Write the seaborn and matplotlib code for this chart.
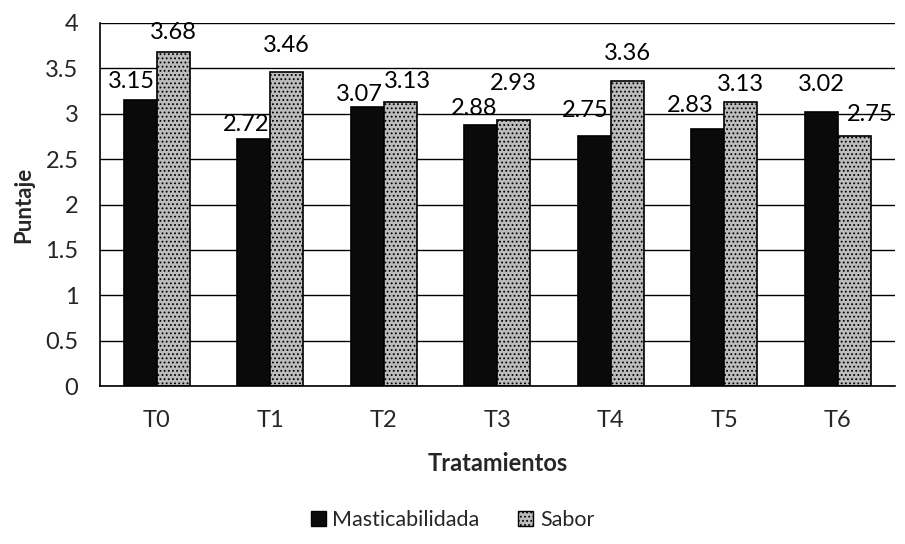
import matplotlib
matplotlib.use("Agg")
import matplotlib.pyplot as plt
import seaborn as sns
import pandas as pd
from matplotlib.patches import Patch

categories = ["T0", "T1", "T2", "T3", "T4", "T5", "T6"]
masticabilidad = [3.15, 2.72, 3.07, 2.88, 2.75, 2.83, 3.02]
sabor = [3.68, 3.46, 3.13, 2.93, 3.36, 3.13, 2.75]
series_names = ["Masticabilidada", "Sabor"]

# label nudges (pixels: dx, gap above bar top) to mimic the reference placement
nudge_mast = [(-9, 12), (-8, 8), (-8, 6), (-7, 10), (-9, 19), (-18, 17), (0, 21)]
nudge_sabor = [(0, 13), (0, 20), (7, 14), (0, 30), (0, 21), (0, 11), (16, 15)]

df = pd.DataFrame({
    "Tratamiento": categories * 2,
    "Serie": [series_names[0]] * len(categories) + [series_names[1]] * len(categories),
    "Puntaje": masticabilidad + sabor,
})

sns.set_theme(style="white")
plt.rcParams["font.family"] = ["Lato", "DejaVu Sans"]
plt.rcParams["hatch.color"] = "#4a4a4a"
plt.rcParams["hatch.linewidth"] = 0.8

fig = plt.figure(figsize=(9.05, 5.44), dpi=100)
ax = fig.add_axes([0.1105, 0.290, 0.878, 0.668])

sns.barplot(data=df, x="Tratamiento", y="Puntaje", hue="Serie",
            palette=["#0a0a0a", "#bcbcbc"], width=0.58, ax=ax,
            edgecolor="black", linewidth=1.2, legend=False, errorbar=None)

for bar in ax.containers[1]:
    bar.set_hatch("....")
    bar.set_edgecolor("black")

ax.set_ylim(0, 4)
ax.set_xlim(-0.5, len(categories) - 0.5)
ticks = [0, 0.5, 1, 1.5, 2, 2.5, 3, 3.5, 4]
ax.set_yticks(ticks)
ax.set_yticklabels([f"{t:g}" for t in ticks], fontsize=17)
ax.set_xticks(range(len(categories)))
ax.set_xticklabels(categories, fontsize=17)
ax.tick_params(axis="x", length=0, pad=17)
ax.tick_params(axis="y", length=5, width=1, color="black", direction="inout", pad=13)
ax.yaxis.grid(True, color="black", linewidth=1)
ax.set_axisbelow(True)
for s in ["top", "right"]:
    ax.spines[s].set_visible(False)
for s in ["left", "bottom"]:
    ax.spines[s].set_color("black")
    ax.spines[s].set_linewidth(1.2)

ax.set_xlabel("Tratamientos", fontsize=17, fontweight="bold", labelpad=15)
ax.set_ylabel("Puntaje", fontsize=16, fontweight="bold", labelpad=8)

for cont, nudges in zip(ax.containers, [nudge_mast, nudge_sabor]):
    for bar, (dx, dy) in zip(cont, nudges):
        h = bar.get_height()
        ax.annotate(f"{h:.2f}", (bar.get_x() + bar.get_width() / 2, h),
                    xytext=(dx, dy), textcoords="offset pixels",
                    ha="center", va="baseline", fontsize=17, color="black")

handles = [Patch(facecolor="#0a0a0a", edgecolor="black"),
           Patch(facecolor="#bcbcbc", edgecolor="black", hatch="....")]
fig.legend(handles, series_names, loc="center", bbox_to_anchor=(0.5, 0.044),
           ncol=2, frameon=False, fontsize=15.5, handlelength=0.7, handleheight=0.7,
           handletextpad=0.3, columnspacing=1.8)

fig.savefig("out.png", dpi=100)
